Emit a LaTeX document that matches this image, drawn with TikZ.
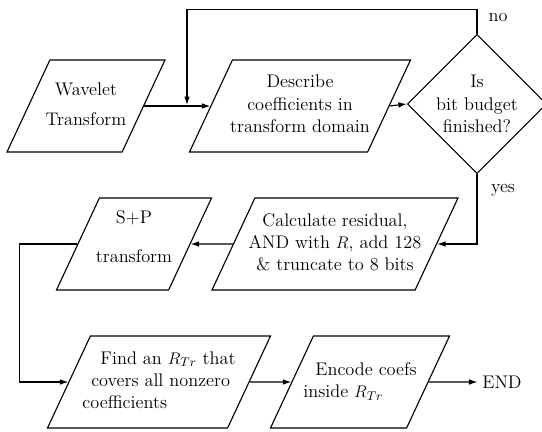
\documentclass[tikz,border=0pt]{standalone}
\usetikzlibrary{shapes.geometric,arrows.meta}

% fixed-size text block (no width of its own), so minimum width and height set each box
\newcommand{\blocktext}[2][c]{\vbox to 2.2cm{\vfil\hbox to 0pt{\hss\begin{tabular}{@{}#1@{}}#2\end{tabular}\hss}\vfil}}

\tikzset{
	datablock/.style={trapezium, trapezium left angle=65, trapezium right angle=115, draw,
		line width=0.8pt, trapezium stretches body, inner xsep=1pt, inner ysep=0.05cm},
	flowline/.style={line width=0.8pt, -{Latex[length=6pt,width=4pt]}},
}

\begin{document}
\begin{tikzpicture}[font=\fontsize{13}{16}\selectfont]
		
		\useasboundingbox (0,0) rectangle (13.55,10.775);
		
		%Top row
		\node (wavelet) at (2.15, 8.125) [datablock, minimum width=3.95cm]{\blocktext{Wavelet\\[5pt]Transform}};
		\node (describe) at (7.5, 8.125) [datablock, minimum width=5.525cm]{\blocktext{Describe\\coefficients in\\transform domain}};
		\node (budget) at (11.925, 8.175) [diamond, draw, line width=0.8pt, minimum width=3.25cm,
		minimum height=3.425cm, inner sep=0pt, align=center]{Is\\bit budget\\finished?};
		
		%Middle row
		\node (residual) at (8.375, 4.675) [datablock, minimum width=6.15cm]{\blocktext{Calculate residual,\\AND with $R$, add 128\\\& truncate to 8 bits}};
		\node (splusp) at (3.35, 4.675) [datablock, minimum width=3.875cm]{\blocktext{S+P\\[12pt]transform\\[8pt]}};
		
		%Bottom row
		\node (findr) at (3.975, 1.225) [datablock, minimum width=5.575cm]{\blocktext[l]{\hspace*{0.45cm}Find an $R_{Tr}$ that\\\hspace*{0.22cm}covers all nonzero\\coefficients}};
		\node (encode) at (9.0, 1.225) [datablock, minimum width=4.475cm]{\blocktext[l]{\hspace*{0.3cm}Encode coefs\\inside $R_{Tr}$}};
		\node (finish) at (12.55, 1.225) {END};
		
		%Labels
		\node (nolabel) at (12.45, 10.325) {no};
		\node (yeslabel) at (12.575, 6.025) {yes};
		
		%Connectors
		\coordinate (merge) at (4.675, 8.15);
		\draw[flowline] (wavelet.east) -- (describe.west |- wavelet.east);
		\draw[flowline] (budget.north) -- ++(0, 0.6) -| (merge);
		\draw[flowline] (describe.east) -- (budget.west);
		\draw[flowline] (budget.south) |- (residual.east);
		\draw[flowline] (residual.west) -- (splusp.east);
		\draw[flowline] (splusp.west) -- ++(-1.44, 0) |- (findr.west);
		\draw[flowline] (findr.east) -- (encode.west);
		\draw[flowline] (encode.east) -- (finish.west);
		
		\end{tikzpicture}
\end{document}
